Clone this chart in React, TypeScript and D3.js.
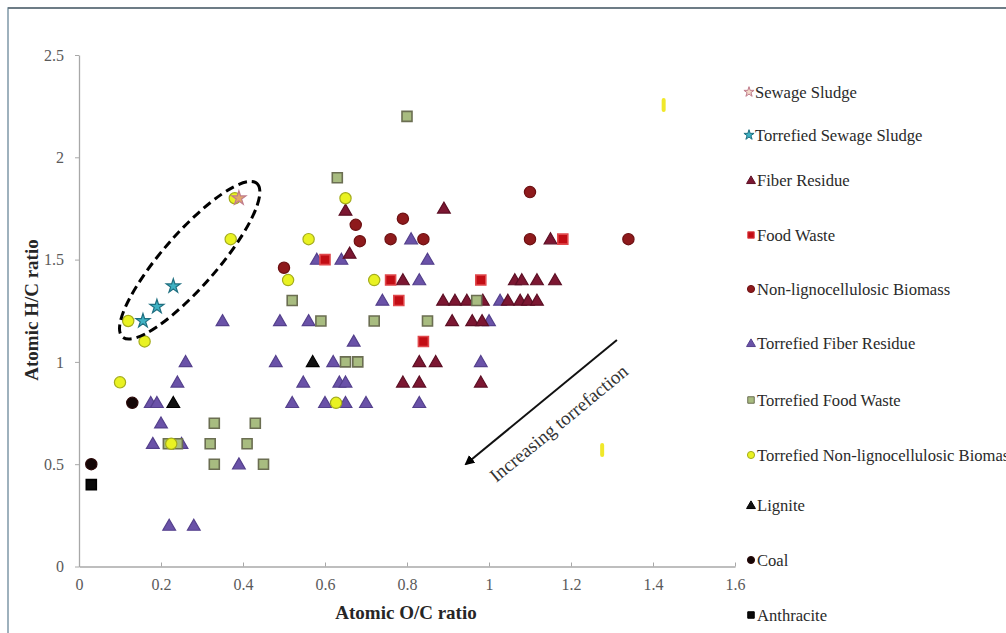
import React, { useEffect, useRef } from 'react';
import * as d3 from 'd3';

type Pt = [number, number];

// values: [O/C, H/C]
const sewageSludge: Pt[] = [[0.39, 1.8]];
const torrefiedSewageSludge: Pt[] = [[0.156, 1.2], [0.19, 1.27], [0.23, 1.37]];
const fiberResidue: Pt[] = [
  [0.65, 1.74], [0.66, 1.53], [0.89, 1.75], [1.15, 1.6],
  [0.79, 1.4], [1.063, 1.4], [1.08, 1.4], [1.117, 1.4], [1.161, 1.4],
  [0.888, 1.3], [0.917, 1.3], [0.946, 1.3], [0.985, 1.3], [1.046, 1.3], [1.076, 1.3], [1.095, 1.3], [1.117, 1.3],
  [0.91, 1.2], [0.959, 1.2], [0.983, 1.2],
  [0.83, 1.0], [0.87, 1.0],
  [0.79, 0.9], [0.83, 0.9], [0.98, 0.9],
];
const foodWaste: Pt[] = [[0.6, 1.5], [0.76, 1.4], [0.78, 1.3], [0.84, 1.1], [0.98, 1.4], [1.18, 1.6]];
const nonLignoBiomass: Pt[] = [
  [0.5, 1.46], [0.675, 1.67], [0.685, 1.59], [0.76, 1.6], [0.79, 1.7],
  [0.84, 1.6], [1.1, 1.83], [1.1, 1.6], [1.34, 1.6],
];
const torrefiedFiberResidue: Pt[] = [
  [0.81, 1.6], [0.58, 1.5], [0.64, 1.5], [0.85, 1.5], [0.83, 1.4],
  [0.74, 1.3], [1.027, 1.3],
  [0.35, 1.2], [0.49, 1.2], [0.56, 1.2], [1.0, 1.2],
  [0.67, 1.1],
  [0.26, 1.0], [0.48, 1.0], [0.62, 1.0], [0.98, 1.0],
  [0.24, 0.9], [0.547, 0.9], [0.635, 0.9], [0.65, 0.9],
  [0.175, 0.8], [0.19, 0.8], [0.52, 0.8], [0.6, 0.8], [0.65, 0.8], [0.7, 0.8], [0.83, 0.8],
  [0.2, 0.7], [0.18, 0.6], [0.25, 0.6], [0.39, 0.5],
  [0.22, 0.2], [0.28, 0.2],
];
const torrefiedFoodWaste: Pt[] = [
  [0.8, 2.2], [0.63, 1.9], [0.52, 1.3], [0.59, 1.2], [0.72, 1.2], [0.85, 1.2],
  [0.65, 1.0], [0.68, 1.0], [0.97, 1.3],
  [0.33, 0.7], [0.43, 0.7], [0.218, 0.6], [0.24, 0.6], [0.32, 0.6], [0.41, 0.6],
  [0.33, 0.5], [0.45, 0.5],
];
const torrefiedNonLigno: Pt[] = [
  [0.38, 1.8], [0.37, 1.6], [0.12, 1.2], [0.16, 1.1], [0.1, 0.9], [0.225, 0.6],
  [0.51, 1.4], [0.65, 1.8], [0.56, 1.6], [0.72, 1.4], [0.627, 0.8],
];
const lignite: Pt[] = [[0.23, 0.8], [0.57, 1.0]];
const coal: Pt[] = [[0.03, 0.5], [0.13, 0.8]];
const anthracite: Pt[] = [[0.03, 0.4]];
// stray yellow dashes visible in the reference
const strayMarks: Pt[] = [[1.426, 2.256], [1.276, 0.569]];

const xTicks = [0, 0.2, 0.4, 0.6, 0.8, 1, 1.2, 1.4, 1.6];
const yTicks = [0, 0.5, 1, 1.5, 2, 2.5];

// annotation anchors in data units
const arrowFrom: Pt = [1.312, 1.107];
const arrowTo: Pt = [0.944, 0.501];
const arrowLabelAt: Pt = [1.17, 0.7];
const ellipseCenter: Pt = [0.27, 1.497];

type Shape = 'triangle' | 'square' | 'circle' | 'star';
interface Series {
  name: string;
  data: Pt[];
  shape: Shape;
  fill: string;
  stroke: string;
}

const seriesList: Series[] = [
  { name: 'Sewage Sludge', data: sewageSludge, shape: 'star', fill: '#e2a86a', stroke: '#c07c8c' },
  { name: 'Torrefied Sewage Sludge', data: torrefiedSewageSludge, shape: 'star', fill: '#3fb2c4', stroke: '#1f6f80' },
  { name: 'Fiber Residue', data: fiberResidue, shape: 'triangle', fill: '#7c1732', stroke: '#5c0f24' },
  { name: 'Food Waste', data: foodWaste, shape: 'square', fill: '#c20d14', stroke: '#e0484c' },
  { name: 'Non-lignocellulosic Biomass', data: nonLignoBiomass, shape: 'circle', fill: '#8e1a1c', stroke: '#6c1012' },
  { name: 'Torrefied Fiber Residue', data: torrefiedFiberResidue, shape: 'triangle', fill: '#6a52a8', stroke: '#54408c' },
  { name: 'Torrefied Food Waste', data: torrefiedFoodWaste, shape: 'square', fill: '#a8bc80', stroke: '#6b6e52' },
  { name: 'Torrefied Non-lignocellulosic Biomass', data: torrefiedNonLigno, shape: 'circle', fill: '#e9f222', stroke: '#a4ac1c' },
  { name: 'Lignite', data: lignite, shape: 'triangle', fill: '#111', stroke: '#000' },
  { name: 'Coal', data: coal, shape: 'circle', fill: '#140606', stroke: '#2a0808' },
  { name: 'Anthracite', data: anthracite, shape: 'square', fill: '#0a0a0a', stroke: '#000' },
];

// drawing order in the plot (later on top)
const drawOrder = [
  'Torrefied Fiber Residue', 'Fiber Residue', 'Food Waste', 'Non-lignocellulosic Biomass',
  'Torrefied Food Waste', 'Torrefied Non-lignocellulosic Biomass', 'Lignite', 'Coal',
  'Anthracite', 'Sewage Sludge', 'Torrefied Sewage Sludge',
];

const legendY = [92, 135, 180, 235, 289, 343, 400, 455, 505, 560, 615];

const symbolType = (s: Shape) =>
  s === 'triangle' ? d3.symbolTriangle : s === 'square' ? d3.symbolSquare : s === 'circle' ? d3.symbolCircle : d3.symbolStar;
const plotSize = (s: Shape) => (s === 'triangle' ? 70 : s === 'square' ? 100 : s === 'circle' ? 100 : 62);
const legendSize = (s: Shape) => (s === 'triangle' ? 34 : s === 'square' ? 42 : s === 'circle' ? 40 : 32);

const W = 1006;
const H = 633;
const FONT = '"Liberation Serif", "Times New Roman", serif';

export default function App() {
  const svgRef = useRef<SVGSVGElement>(null);

  useEffect(() => {
    if (!svgRef.current) return;
    const svg = d3.select(svgRef.current);
    svg.selectAll('*').remove();

    const x = d3.scaleLinear().domain([0, 1.6]).range([79, 735]);
    const y = d3.scaleLinear().domain([0, 2.5]).range([566.5, 55]);

    svg.append('rect').attr('width', W).attr('height', H).attr('fill', '#fff');
    // outer frame
    svg.append('rect')
      .attr('x', 8).attr('y', 8).attr('width', W + 20).attr('height', H + 20)
      .attr('fill', 'none').attr('stroke', '#7f98a8').attr('stroke-width', 1.5);
    svg.append('line')
      .attr('x1', 8).attr('x2', W).attr('y1', 8).attr('y2', 8)
      .attr('stroke', '#5d6b74').attr('stroke-width', 1.5);

    // axes
    const yAxis = svg.append('g')
      .attr('transform', `translate(${x(0)},0)`)
      .call(d3.axisLeft(y).tickValues(yTicks).tickSizeInner(4).tickSizeOuter(0).tickPadding(11)
        .tickFormat(d => String(d)));
    const xAxis = svg.append('g')
      .attr('transform', `translate(0,${y(0)})`)
      .call(d3.axisBottom(x).tickValues(xTicks).tickSizeInner(-4).tickSizeOuter(0).tickPadding(12)
        .tickFormat(d => String(d)));
    [xAxis, yAxis].forEach(ax => {
      ax.select('.domain').attr('stroke', '#a8a8a8').attr('stroke-width', 1.3);
      ax.selectAll('.tick line').attr('stroke', '#a8a8a8');
      ax.selectAll('.tick text')
        .attr('fill', '#5a5a5a').style('font-family', FONT).style('font-size', '16px');
    });

    svg.append('text')
      .attr('x', 406).attr('y', 619)
      .attr('text-anchor', 'middle')
      .style('font-family', FONT).style('font-size', '19px').style('font-weight', 'bold')
      .attr('fill', '#262626')
      .text('Atomic O/C ratio');
    svg.append('text')
      .attr('transform', 'translate(38,310) rotate(-90)')
      .attr('text-anchor', 'middle')
      .style('font-family', FONT).style('font-size', '19px').style('font-weight', 'bold')
      .attr('fill', '#262626')
      .text('Atomic H/C ratio');

    // stray yellow dashes
    svg.append('g').selectAll('rect')
      .data(strayMarks)
      .enter().append('rect')
      .attr('x', d => x(d[0]) - 2).attr('y', d => y(d[1]) - 7)
      .attr('width', 4).attr('height', 14).attr('rx', 2)
      .attr('fill', '#f0e82a');

    // points
    const byName = new Map(seriesList.map(s => [s.name, s]));
    drawOrder.forEach(name => {
      const s = byName.get(name)!;
      const sym = d3.symbol().type(symbolType(s.shape)).size(plotSize(s.shape));
      svg.append('g').selectAll('path')
        .data(s.data)
        .enter().append('path')
        .attr('d', sym as any)
        .attr('transform', d => `translate(${x(d[0])},${y(d[1]) + (s.shape === 'triangle' ? 1 : 0)})`)
        .attr('fill', s.fill)
        .attr('stroke', s.stroke)
        .attr('stroke-width', s.shape === 'square' ? 1.6 : 1.2);
    });

    // dashed ellipse around sewage sludge points
    svg.append('ellipse')
      .attr('cx', 0).attr('cy', 0).attr('rx', 102).attr('ry', 27)
      .attr('transform', `translate(${x(ellipseCenter[0])},${y(ellipseCenter[1])}) rotate(-48.8)`)
      .attr('fill', 'none').attr('stroke', '#000').attr('stroke-width', 3)
      .attr('stroke-dasharray', '9,5');

    // torrefaction arrow
    const defs = svg.append('defs');
    defs.append('marker')
      .attr('id', 'arrowhead')
      .attr('viewBox', '0 0 10 10').attr('refX', 8).attr('refY', 5)
      .attr('markerWidth', 5).attr('markerHeight', 5).attr('orient', 'auto')
      .append('path').attr('d', 'M0,0 L10,5 L0,10 z').attr('fill', '#000');
    svg.append('line')
      .attr('x1', x(arrowFrom[0])).attr('y1', y(arrowFrom[1]))
      .attr('x2', x(arrowTo[0])).attr('y2', y(arrowTo[1]))
      .attr('stroke', '#111').attr('stroke-width', 2)
      .attr('marker-end', 'url(#arrowhead)');
    const ang = Math.atan2(y(arrowFrom[1]) - y(arrowTo[1]), x(arrowFrom[0]) - x(arrowTo[0])) * 180 / Math.PI;
    svg.append('text')
      .attr('transform', `translate(${x(arrowLabelAt[0])},${y(arrowLabelAt[1])}) rotate(${ang})`)
      .attr('text-anchor', 'middle').attr('dominant-baseline', 'central')
      .style('font-family', FONT).style('font-size', '19px')
      .attr('fill', '#333')
      .text('Increasing torrefaction');

    // legend
    const legend = svg.append('g');
    seriesList.forEach((s, i) => {
      const ly = legendY[i];
      const isStar = s.shape === 'star';
      legend.append('path')
        .attr('d', d3.symbol().type(symbolType(s.shape)).size(legendSize(s.shape)) as any)
        .attr('transform', `translate(${isStar ? 749 : 751},${ly + (s.shape === 'triangle' ? 1 : 0)})`)
        .attr('fill', isStar && i === 0 ? '#f3d8c8' : s.fill)
        .attr('stroke', s.stroke).attr('stroke-width', 1);
      legend.append('text')
        .attr('x', isStar ? 755 : 757).attr('y', ly)
        .attr('dominant-baseline', 'central')
        .style('font-family', FONT).style('font-size', '16.6px')
        .attr('fill', '#2a2a2a')
        .text(s.name);
    });
  }, []);

  return (
    <svg
      ref={svgRef}
      width={W}
      height={H}
      style={{ position: 'absolute', left: 0, top: 0, display: 'block' }}
    />
  );
}
